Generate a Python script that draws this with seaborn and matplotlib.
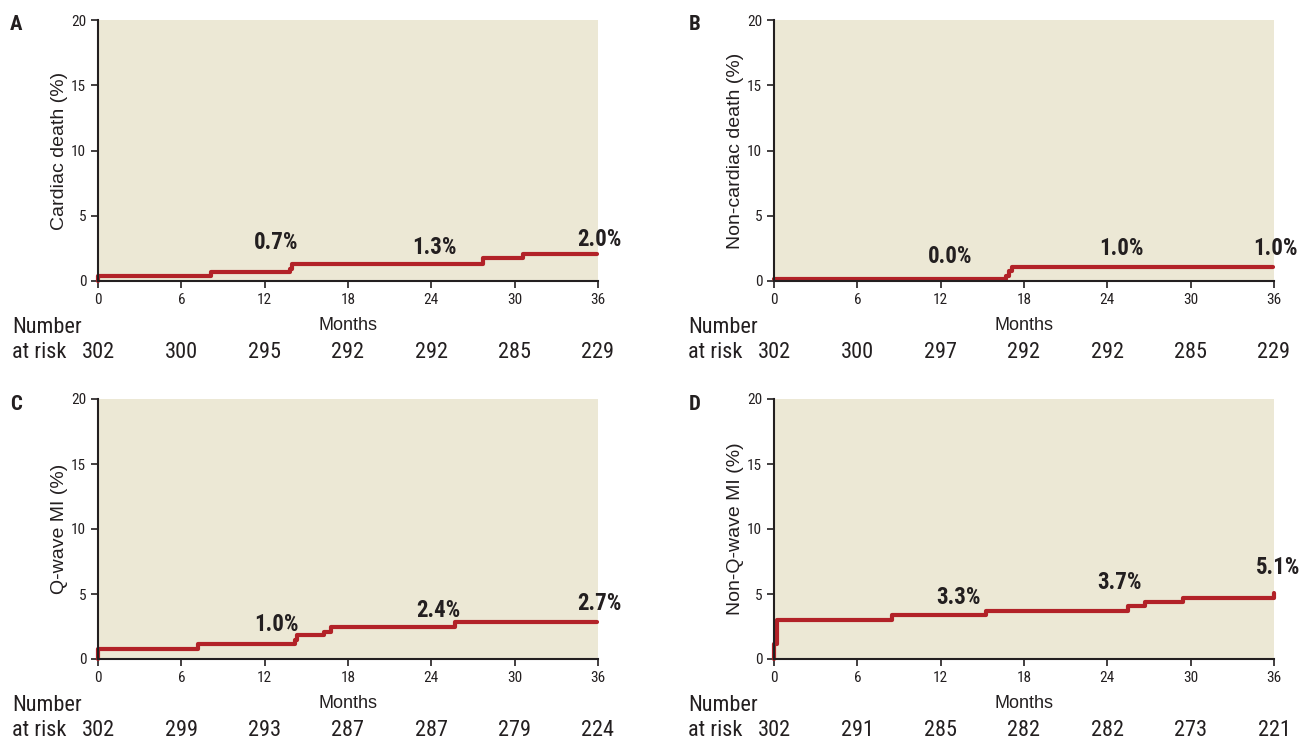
import matplotlib
matplotlib.use('Agg')
import matplotlib.pyplot as plt
from matplotlib import font_manager
from matplotlib.font_manager import FontProperties
import pandas as pd
import seaborn as sns

# Months at which the step curves change, and the cumulative event rate (%) from there on
a_months = [0, 0, 8.1, 13.8, 14.0, 27.7, 30.6, 35.9]
a_rate = [0, 0.38, 0.69, 0.95, 1.28, 1.76, 2.04, 2.04]
b_months = [0, 16.7, 16.9, 17.1, 35.9]
b_rate = [0.12, 0.4, 0.75, 1.1, 1.1]
c_months = [0, 0, 7.2, 14.15, 14.3, 16.3, 16.8, 25.7, 35.9]
c_rate = [0, 0.77, 1.15, 1.48, 1.84, 2.1, 2.43, 2.81, 2.81]
d_months = [0, 0, 0.24, 8.5, 15.25, 25.5, 26.7, 29.45, 36, 36]
d_rate = [0, 1.15, 3.0, 3.38, 3.7, 4.1, 4.42, 4.73, 4.73, 5.1]

# Annotated rates: text, month, height
a_notes = [('0.7%', 12.8, 2.95), ('1.3%', 24.2, 2.57), ('2.0%', 36.1, 3.18)]
b_notes = [('0.0%', 12.7, 1.88), ('1.0%', 25.0, 2.49), ('1.0%', 36.1, 2.49)]
c_notes = [('1.0%', 12.84, 2.69), ('2.4%', 24.5, 3.73), ('2.7%', 36.1, 4.3)]
d_notes = [('3.3%', 13.3, 4.73), ('3.7%', 24.9, 5.85), ('5.1%', 36.3, 7.0)]

risk_months = [0, 6, 12, 18, 24, 30, 36]
a_risk = [302, 300, 295, 292, 292, 285, 229]
b_risk = [302, 300, 297, 292, 292, 285, 229]
c_risk = [302, 299, 293, 287, 287, 279, 224]
d_risk = [302, 291, 285, 282, 282, 273, 221]

letters = ['A', 'B', 'C', 'D']
ylabels = ['Cardiac death (%)', 'Non-cardiac death (%)', 'Q-wave MI (%)', 'Non-Q-wave MI (%)']

sns.set_style('ticks')
plt.rcParams['font.family'] = ['Liberation Sans', 'DejaVu Sans']


# look for a condensed face, the reference uses a narrow grotesque
def find_narrow(bold):
    fonts = font_manager.fontManager.ttflist
    tests = [
        lambda f: f.name == 'Liberation Sans Narrow',
        lambda f: f.name == 'Roboto Condensed',
        lambda f: f.name.startswith('Open Sans') and ('Condensed' in f.name or f.stretch == 'condensed'),
        lambda f: f.name == 'Noto Sans' and f.stretch == 'condensed',
        lambda f: f.name.startswith('Noto Sans') and 'Condensed' in f.name and 'CJK' not in f.name,
        lambda f: f.name.startswith('DejaVu Sans') and (f.stretch == 'condensed' or 'Condensed' in f.name),
    ]
    for t in tests:
        hits = [f for f in fonts if t(f) and f.style == 'normal'
                and ((int(f.weight) >= 600) == bold)]
        if hits:
            hits.sort(key=lambda f: abs(int(f.weight) - (700 if bold else 400)))
            return hits[0].fname
    return None


reg_file = find_narrow(False)
bold_file = find_narrow(True)


def narrow(size, bold=False):
    path = bold_file if bold else reg_file
    if path:
        return FontProperties(fname=path, size=size)
    return FontProperties(family='DejaVu Sans', size=size * 0.85,
                          weight='bold' if bold else 'normal')


INK = '#231f20'
RED = '#b22228'
BG = '#ece8d5'

fig = plt.figure(figsize=(13.01, 7.39), dpi=100)
W, H = 1301, 739
# left, top, bottom pixel of each plot area
boxes = [(98, 20, 281), (774, 20, 281), (98, 399, 659), (774, 399, 659)]

panels = [
    (a_months, a_rate, a_notes, a_risk),
    (b_months, b_rate, b_notes, b_risk),
    (c_months, c_rate, c_notes, c_risk),
    (d_months, d_rate, d_notes, d_risk),
]

for i, (months, rate, notes, risk) in enumerate(panels):
    left, top, bottom = boxes[i]
    h = bottom - top
    ax = fig.add_axes([left / W, 1 - bottom / H, 500 / W, h / H])
    ax.set_facecolor(BG)

    df = pd.DataFrame({'month': months, 'rate': rate})
    sns.lineplot(data=df, x='month', y='rate', ax=ax, color=RED, lw=3,
                 drawstyle='steps-post', estimator=None, sort=False,
                 clip_on=False, zorder=3)

    ax.set_xlim(0, 36)
    ax.set_ylim(0, 20)
    ax.set_xticks(risk_months)
    ax.set_yticks([0, 5, 10, 15, 20])
    ax.set_xlabel('')
    ax.set_ylabel(ylabels[i], fontsize=14, color=INK, labelpad=2)
    for lab in ax.get_xticklabels() + ax.get_yticklabels():
        lab.set_fontproperties(narrow(11))
        lab.set_color(INK)
    ax.tick_params(length=5, width=1.2, color=INK, pad=3.5)
    for s in ['top', 'right']:
        ax.spines[s].set_visible(False)
    for s in ['left', 'bottom']:
        ax.spines[s].set_linewidth(1.5)
        ax.spines[s].set_color(INK)
        ax.spines[s].set_zorder(4)

    for txt, x, y in notes:
        ax.text(x, y, txt, ha='center', va='center',
                fontproperties=narrow(16.5, bold=True), color=INK, clip_on=False)

    # months label and number at risk rows, offsets in pixels below the x axis
    ax.text(18, -49 / h, 'Months', transform=ax.get_xaxis_transform(),
            ha='center', va='baseline', fontsize=13, color=INK)
    ax.text(-0.172, -52 / h, 'Number', transform=ax.transAxes,
            ha='left', va='baseline', fontproperties=narrow(16), color=INK)
    ax.text(-0.172, -77 / h, 'at risk', transform=ax.transAxes,
            ha='left', va='baseline', fontproperties=narrow(16), color=INK)
    for m, n in zip(risk_months, risk):
        ax.text(m, -77 / h, str(n), transform=ax.get_xaxis_transform(),
                ha='center', va='baseline', fontproperties=narrow(16), color=INK)

    fig.text((16 if i % 2 == 0 else 694.5) / W, 1 - (top + 5) / H, letters[i],
             ha='center', va='center', fontproperties=narrow(15, bold=True),
             color=INK)

fig.savefig('out.png', dpi=100)
